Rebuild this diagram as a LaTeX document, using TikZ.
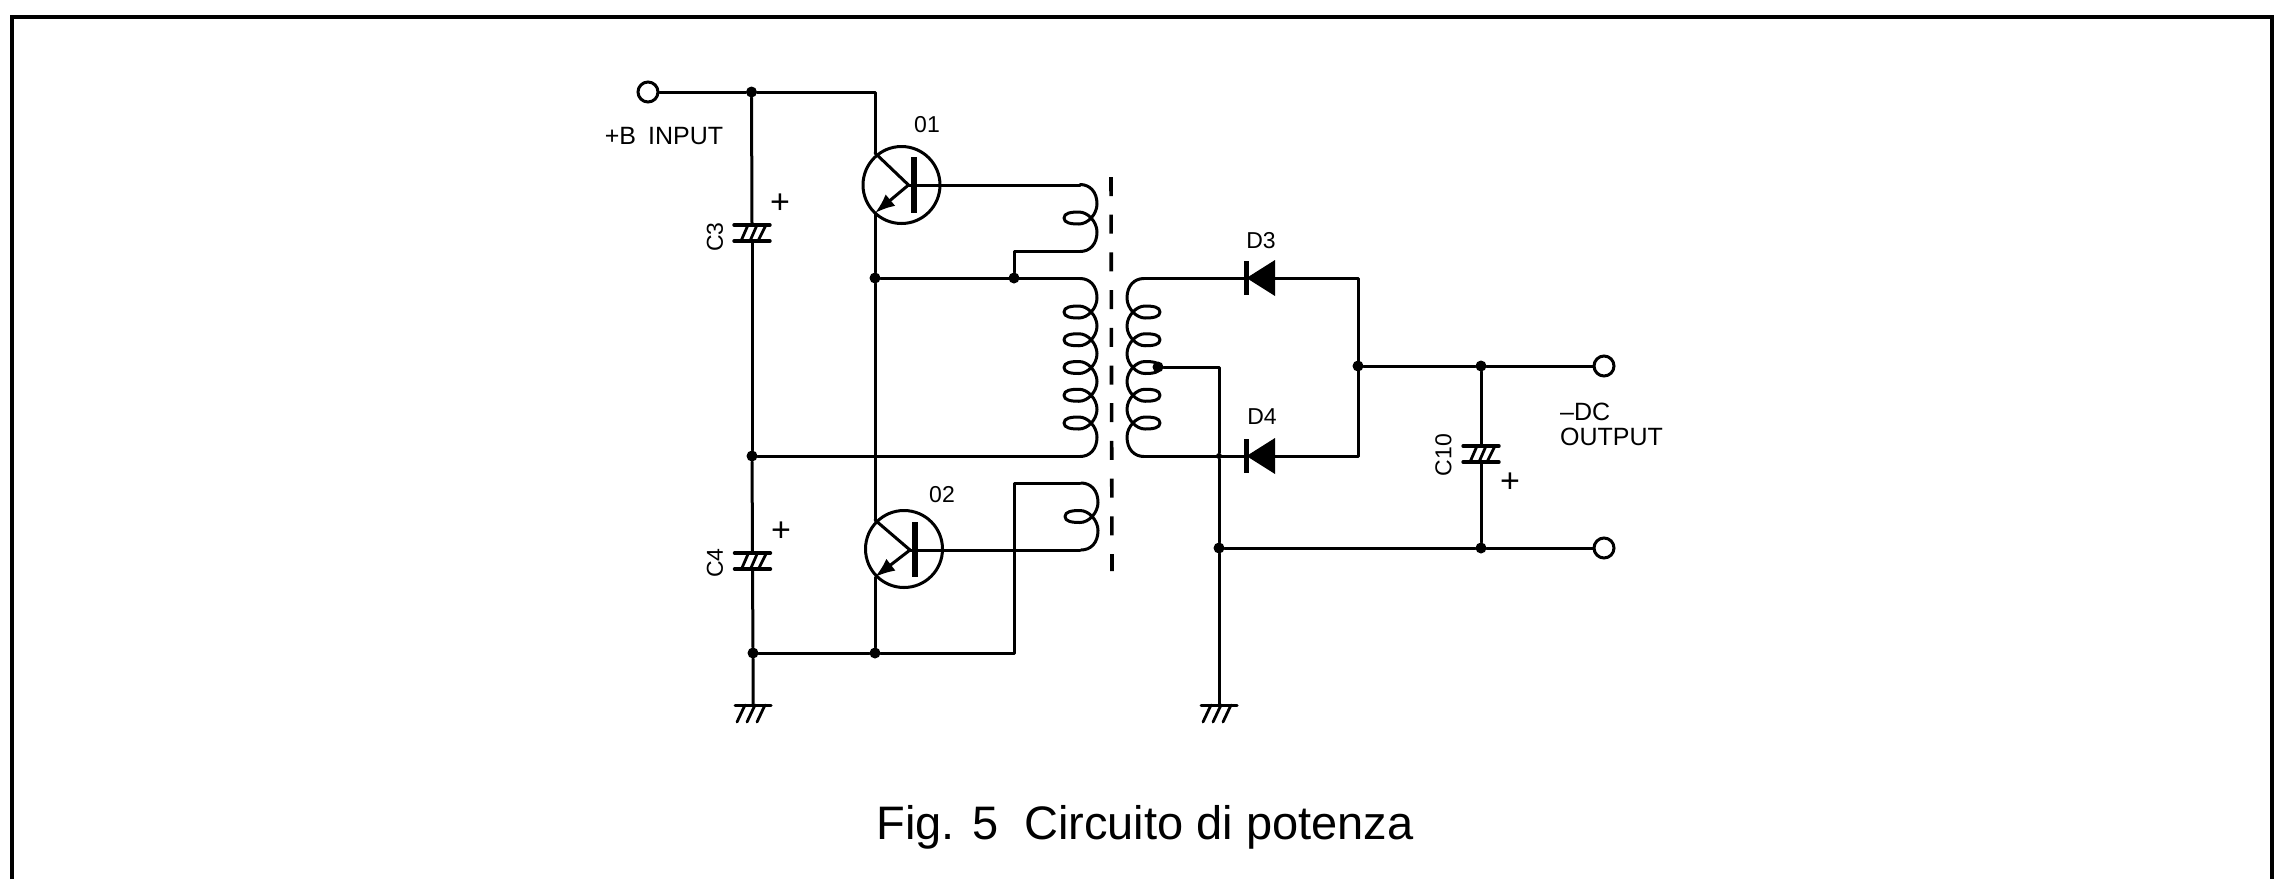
\documentclass[tikz,border=0pt]{standalone}
\usepackage{fontspec}
\setmainfont{Liberation Sans}
\usetikzlibrary{arrows.meta}
\newcommand{\coilw}[1]{% #1 = number of loops; origin at first loop tip
  \draw[wire] (16,-33.5) .. controls (26,-33.5) and (33,-26) .. (33,-14)
    .. controls (33,-4) and (24,6) .. (15,6)
    .. controls (7,6) and (0,5) .. (0,0)
    \foreach \y [evaluate=\y as \yy using (\y-1)*27.75] in {1,...,#1} {
      .. controls (0,\yy-5) and (7,\yy-6) .. (15,\yy-6)
      \ifnum\y<#1
      .. controls (24,\yy-6) and (33,\yy+4) .. (33,\yy+14)
      .. controls (33,\yy+24) and (24,\yy+33.75) .. (15,\yy+33.75)
      .. controls (7,\yy+33.75) and (0,\yy+32.75) .. (0,\yy+27.75)
      \else
      .. controls (24,\yy-6) and (33,\yy+4) .. (33,\yy+14)
      .. controls (33,\yy+26) and (26,\yy+33.5) .. (16,\yy+33.5)
      \fi
    };
}
\tikzset{
  x=1pt,y=-1pt,
  wire/.style={line width=3pt,line cap=round,line join=round,black},
  dot/.style={circle,fill=black,inner sep=0pt,minimum size=11pt},
  smalldot/.style={circle,fill=black,inner sep=0pt,minimum size=6pt},
  term/.style={circle,draw=black,line width=3pt,fill=white,inner sep=0pt,minimum size=20pt},
  trans/.style={circle,draw=black,line width=3pt,inner sep=0pt,minimum size=77pt},
  lab/.style={inner sep=0pt,font=\fontsize{23}{25}\selectfont},
  lablong/.style={inner sep=0pt,font=\fontsize{25}{27}\selectfont},
  plus/.style={inner sep=0pt,font=\fontsize{34}{34}\selectfont},
  capsym/.pic={
    \draw[wire,line width=3.4pt] (-18,-8) -- (18,-8) (-18,8) -- (18,8);
    \draw[wire,line width=2.8pt] (-4,-8) -- (-11,8) (5,-8) -- (-2,8) (14,-8) -- (6,8);
  },
  gndsym/.pic={
    \draw[wire] (-18,0) -- (18,0);
    \draw[wire,line width=2.8pt] (-8,0) -- (-16,17) (2,0) -- (-6,17) (12,0) -- (4,17);
  },
  diodesym/.pic={
    \fill[black] (0,0) -- (28.5,-18) -- (28.5,18) -- cycle;
    \draw[line width=5pt,black] (0,-17) -- (0,17);
  },
}
\begin{document}
\begin{tikzpicture}
\useasboundingbox (0,0) rectangle (2278,879);
\fill[white] (0,0) rectangle (2278,879);
% frame
\draw[black,line width=4.5pt,line join=miter] (12,879) -- (12,17) -- (2272,17) -- (2272,879);

% junctions and terminals
\node[term] (tb) at (648,92) {};
\node[term] (to) at (1604,366) {};
\node[term] (tr) at (1604,548) {};
\node[dot] (j1) at (751.5,92) {};
\node[dot] (j2) at (752,456) {};
\node[dot] (j3) at (753,653) {};
\node[dot] (j4) at (875,653) {};
\node[dot] (j5) at (875,278) {};
\node[dot] (j6) at (1014,278) {};
\node[dot] (j7) at (1358,366) {};
\node[dot] (j8) at (1481,366) {};
\node[dot] (j9) at (1481,548) {};
\node[dot] (j10) at (1219,548) {};
\node[dot] (j11) at (1158,367) {};
\node[smalldot] (j12) at (1219,456) {};

\coordinate (c1) at (875,92);
\coordinate (c1c) at (875,153);
\coordinate (b1) at (908.5,185);
\coordinate (e1) at (875,213);
\coordinate (b1e) at (1080,185);
\coordinate (c2c) at (875,520);
\coordinate (b2) at (910,550);
\coordinate (e2) at (875,577);
\coordinate (b2e) at (1080,550);
\coordinate (p1t) at (1080,278);
\coordinate (p1b) at (1080,456);
\coordinate (k1) at (1080,251);
\coordinate (k2) at (1014,251);
\coordinate (k3) at (1014,483);
\coordinate (k4) at (1080,483);
\coordinate (k5) at (1014,653);
\coordinate (s1t) at (1143,278);
\coordinate (s1b) at (1143,456);
\coordinate (d3c) at (1246.5,278);
\coordinate (d3a) at (1275,278);
\coordinate (d4c) at (1246.5,456);
\coordinate (d4a) at (1275,456);
\coordinate (n1) at (1358,278);
\coordinate (n2) at (1358,456);
\coordinate (n3) at (1219,367);
\coordinate (g1) at (753,705);
\coordinate (g2) at (1219,705);
\coordinate (c3t) at (752,225);
\coordinate (c3b) at (752,241);
\coordinate (c4t) at (752.5,553);
\coordinate (c4b) at (752.5,569);
\coordinate (c10t) at (1481,446);
\coordinate (c10b) at (1481,462);

% transistors
\node[trans] (q1) at (901.5,185) {};
\node[trans] (q2) at (904,549) {};
\draw[line width=6pt,black] (914,157) -- (914,213);
\draw[line width=6pt,black] (915,522) -- (915,577);
\draw[wire] (c1c) -- (b1);
\draw[wire] (c2c) -- (b2);
\draw[wire,-{Latex[length=20pt,width=15pt]}] (b1) -- (e1);
\draw[wire,-{Latex[length=20pt,width=15pt]}] (b2) -- (e2);

% wires left side
\draw[wire] (tb) -- (j1) -- (c1) -- (c1c);
\draw[wire] (e1) -- (j5) -- (c2c);
\draw[wire] (e2) -- (j4);
\draw[wire] (j1) -- (c3t);
\draw[wire] (c3b) -- (j2);
\draw[wire] (j2) -- (c4t);
\draw[wire] (c4b) -- (j3) -- (g1);
\draw[wire] (j3) -- (j4) -- (k5) -- (k3) -- (k4);
\draw[wire] (j5) -- (p1t);
\draw[wire] (j6) -- (k2) -- (k1);
\draw[wire] (j2) -- (p1b);
\draw[wire] (b1) -- (b1e);
\draw[wire] (b2) -- (b2e);

% wires right side
\draw[wire] (s1t) -- (d3c);
\draw[wire] (d3a) -- (n1) -- (n2) -- (d4a);
\draw[wire] (d4c) -- (s1b);
\draw[wire] (j7) -- (j8) -- (to);
\draw[wire] (j8) -- (c10t);
\draw[wire] (c10b) -- (j9);
\draw[wire] (j10) -- (j9) -- (tr);
\draw[wire] (j11) -- (n3) -- (j12) -- (j10) -- (g2);

% coils (primary side: loops to the left, secondary mirrored)
\begin{scope}[shift={(1064,218)}]\coilw{1}\end{scope}
\begin{scope}[shift={(1064,312)}]\coilw{5}\end{scope}
\begin{scope}[shift={(1065,516.5)}]\coilw{1}\end{scope}
\begin{scope}[shift={(1160,312)},xscale=-1]\coilw{5}\end{scope}

% core
\draw[black,line width=3.6pt,dash pattern=on 19pt off 18.7pt] (1111,177) -- (1112,571);

% symbols
\pic at (752,233) {capsym};
\pic at (752.5,561) {capsym};
\pic at (1481,454) {capsym};
\pic at (753,705) {gndsym};
\pic at (1219,705) {gndsym};
\pic at (1246.5,278) {diodesym};
\pic at (1246.5,456) {diodesym};

% labels
\node[lablong] (linp) at (664,136) {+B\hspace{5pt} INPUT};
\node[lab] (lq1) at (927,125) {01};
\node[lab] (lq2) at (942,495) {02};
\node[lab,rotate=90] (lc3) at (715,237) {C3};
\node[lab,rotate=90] (lc4) at (715,563) {C4};
\node[lab,rotate=90] (lc10) at (1443.5,455) {C10};
\node[lab] (ld3) at (1261,241) {D3};
\node[lab] (ld4) at (1262,417) {D4};
\node[plus] (p3) at (780,204) {+};
\node[plus] (p4) at (781,532) {+};
\node[plus] (p10) at (1510,483) {+};
\node[lablong,anchor=west] (ldc) at (1560,412) {–DC};
\node[lablong,anchor=west] (lout) at (1560,437) {OUTPUT};
\node[inner sep=0pt,font=\fontsize{47}{50}\selectfont] (cap) at (1145,827) {Fig. 5\hspace{13pt} Circuito di potenza};
\end{tikzpicture}
\end{document}
